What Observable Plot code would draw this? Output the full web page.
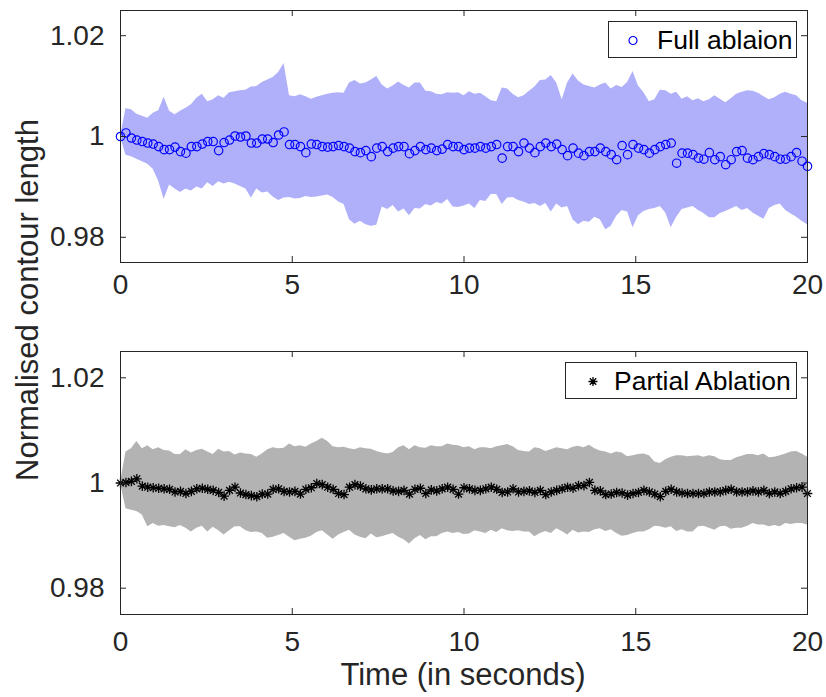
<!DOCTYPE html>
<html><head><meta charset="utf-8">
<script src="https://cdn.jsdelivr.net/npm/d3@7"></script>
<script src="https://cdn.jsdelivr.net/npm/@observablehq/plot@0.6"></script>
<style>
body{margin:0;background:#fff;}
#wrap{position:relative;width:826px;height:697px;font-family:"Liberation Sans",Arial,Helvetica,sans-serif;color:#262626;overflow:hidden;background:#fff}
.panel{position:absolute;left:0}
.panel svg{overflow:visible}
.legend{position:absolute;background:#fff;border:1px solid #262626;box-sizing:border-box;font-size:26.5px;line-height:1;color:#000}
.legend svg{position:absolute;left:0;top:0}
.legend span{position:absolute;left:48px;top:50%;transform:translateY(-50%);white-space:nowrap}
.lab{position:absolute;font-size:31px;line-height:31px;white-space:nowrap;color:#262626}
</style></head>
<body><div id="wrap"></div>
<script>
// ---- data ----
const nSamples = 127;               // samples between 0 and 20 s
const time = d3.range(nSamples).map(i => i * 20 / (nSamples - 1));
const xTicks = [0, 5, 10, 15, 20];
const yTicks = [0.98, 1, 1.02];
const yTickLabels = ["0.98", "1", "1.02"];
const seriesNames = ["Full ablaion", "Partial Ablation"];
const xLabel = "Time (in seconds)";
const yLabel = "Normalised contour length";

const fullMean = [
1.0000,1.0007,0.9997,0.9993,0.9990,0.9987,0.9985,0.9980,0.9974,0.9974,
0.9979,0.9970,0.9967,0.9980,0.9980,0.9985,0.9990,0.9990,0.9972,0.9988,
0.9993,1.0001,0.9999,1.0001,0.9987,0.9987,0.9995,0.9995,0.9988,1.0003,
1.0009,0.9984,0.9984,0.9980,0.9968,0.9985,0.9984,0.9980,0.9979,0.9980,
0.9982,0.9980,0.9977,0.9970,0.9968,0.9972,0.9960,0.9977,0.9980,0.9970,
0.9977,0.9980,0.9980,0.9966,0.9972,0.9980,0.9974,0.9977,0.9972,0.9975,
0.9984,0.9980,
0.9980,0.9974,0.9977,0.9977,0.9980,0.9977,0.9980,0.9984,0.9957,
0.9980,0.9980,0.9970,0.9987,0.9977,0.9968,0.9980,0.9987,0.9980,0.9985,
0.9974,0.9962,0.9977,0.9967,0.9962,0.9970,0.9970,0.9977,0.9970,0.9964,
0.9954,0.9982,0.9964,0.9984,0.9977,0.9974,0.9967,0.9974,0.9980,0.9984,
0.9987,0.9947,0.9967,0.9967,0.9964,0.9957,0.9955,0.9968,0.9954,0.9960,
0.9944,0.9954,0.9970,0.9972,0.9957,0.9954,0.9960,0.9966,0.9964,0.9960,
0.9955,0.9955,0.9960,0.9968,0.9951,0.9941];
const fullUpper = [
1.0000,1.0055,1.0053,1.0044,1.0040,1.0036,1.0046,1.0051,1.0078,1.0050,
1.0043,1.0050,1.0056,1.0063,1.0076,1.0084,1.0069,1.0073,1.0081,1.0076,
1.0087,1.0089,1.0091,1.0092,1.0098,1.0099,1.0107,1.0112,1.0117,1.0127,
1.0145,1.0081,1.0079,1.0083,1.0079,1.0074,1.0078,1.0081,1.0084,1.0086,
1.0087,1.0086,1.0106,1.0111,1.0104,1.0106,1.0112,1.0119,1.0102,1.0094,
1.0100,1.0108,1.0101,1.0096,1.0106,1.0106,1.0090,1.0089,1.0084,1.0083,
1.0087,1.0086,1.0087,1.0081,1.0089,1.0084,1.0086,1.0079,1.0071,1.0069,
1.0096,1.0094,1.0084,1.0077,1.0081,1.0090,1.0098,1.0111,1.0112,1.0121,
1.0106,1.0073,1.0106,1.0124,1.0110,1.0102,1.0099,1.0096,1.0102,1.0106,
1.0094,1.0101,1.0097,1.0107,1.0129,1.0100,1.0087,1.0069,1.0073,1.0092,
1.0091,1.0084,1.0088,1.0074,1.0079,1.0071,1.0075,1.0069,1.0073,1.0081,
1.0074,1.0067,1.0075,1.0084,1.0088,1.0091,1.0090,1.0086,1.0079,1.0073,
1.0077,1.0084,1.0088,1.0084,1.0081,1.0071,1.0066];
const fullLower = [
1.0000,0.9963,0.9960,0.9955,0.9950,0.9945,0.9935,0.9911,0.9875,0.9904,
0.9896,0.9889,0.9896,0.9892,0.9900,0.9896,0.9908,0.9901,0.9910,0.9906,
0.9909,0.9906,0.9901,0.9896,0.9878,0.9896,0.9888,0.9890,0.9880,0.9873,
0.9878,0.9879,0.9876,0.9877,0.9881,0.9879,0.9880,0.9882,0.9884,0.9879,
0.9870,0.9865,0.9835,0.9826,0.9832,0.9825,0.9822,0.9824,0.9860,0.9855,
0.9863,0.9850,0.9856,0.9843,0.9857,0.9856,0.9865,0.9862,0.9869,0.9866,
0.9875,0.9860,0.9859,0.9862,0.9866,0.9857,0.9873,0.9871,0.9885,0.9885,
0.9865,0.9878,0.9879,0.9873,0.9870,0.9865,0.9867,0.9861,0.9867,0.9850,
0.9866,0.9858,0.9861,0.9835,0.9825,0.9832,0.9830,0.9840,0.9835,0.9815,
0.9822,0.9842,0.9853,0.9850,0.9819,0.9843,0.9851,0.9855,0.9857,0.9861,
0.9848,0.9819,0.9840,0.9855,0.9858,0.9861,0.9853,0.9847,0.9839,0.9839,
0.9847,0.9851,0.9856,0.9861,0.9853,0.9857,0.9848,0.9842,0.9836,0.9857,
0.9863,0.9866,0.9853,0.9846,0.9840,0.9832,0.9825];

const partialMean = [
1.0000,1.0001,1.0003,1.0008,0.9994,0.9992,0.9991,0.9990,0.9989,0.9988,
0.9983,0.9984,0.9980,0.9984,0.9989,0.9990,0.9988,0.9986,0.9982,0.9975,
0.9986,0.9992,0.9981,0.9978,0.9976,0.9974,0.9979,0.9979,0.9988,0.9989,
0.9984,0.9983,0.9984,0.9979,0.9988,0.9991,0.9999,0.9997,0.9992,0.9988,
0.9980,0.9978,0.9992,0.9997,0.9994,0.9989,0.9987,0.9989,0.9989,0.9989,
0.9985,0.9984,0.9986,0.9979,0.9988,0.9990,0.9980,0.9987,0.9985,0.9989,
0.9992,0.9988,0.9979,0.9991,0.9989,0.9986,0.9986,0.9989,0.9992,0.9988,
0.9982,0.9983,0.9989,0.9983,0.9984,0.9985,0.9982,0.9986,0.9978,0.9983,
0.9986,0.9989,0.9992,0.9990,0.9995,0.9995,1.0001,0.9986,0.9985,0.9978,
0.9979,0.9982,0.9981,0.9977,0.9980,0.9982,0.9986,0.9983,0.9979,0.9974,
0.9984,0.9988,0.9983,0.9981,0.9980,0.9980,0.9980,0.9980,0.9983,0.9983,
0.9983,0.9986,0.9988,0.9983,0.9983,0.9983,0.9985,0.9983,0.9986,0.9980,
0.9983,0.9980,0.9984,0.9989,0.9991,0.9992,0.9980];
const partialUpper = [
1.0000,1.0059,1.0065,1.0079,1.0065,1.0071,1.0063,1.0067,1.0062,1.0061,
1.0054,1.0054,1.0063,1.0057,1.0062,1.0064,1.0059,1.0054,1.0064,1.0059,
1.0060,1.0053,1.0057,1.0055,1.0054,1.0049,1.0055,1.0063,1.0067,1.0065,
1.0066,1.0074,1.0069,1.0071,1.0068,1.0074,1.0079,1.0085,1.0079,1.0069,
1.0067,1.0068,1.0065,1.0063,1.0067,1.0065,1.0064,1.0060,1.0057,1.0055,
1.0058,1.0067,1.0071,1.0063,1.0071,1.0067,1.0066,1.0071,1.0069,1.0069,
1.0074,1.0072,1.0071,1.0067,1.0069,1.0063,1.0067,1.0067,1.0065,1.0069,
1.0071,1.0073,1.0069,1.0062,1.0060,1.0059,1.0067,1.0065,1.0060,1.0063,
1.0067,1.0065,1.0063,1.0068,1.0070,1.0067,1.0072,1.0065,1.0061,1.0059,
1.0055,1.0059,1.0057,1.0050,1.0052,1.0054,1.0055,1.0052,1.0040,1.0037,
1.0044,1.0049,1.0052,1.0052,1.0050,1.0051,1.0052,1.0049,1.0052,1.0050,
1.0044,1.0043,1.0043,1.0048,1.0051,1.0054,1.0054,1.0052,1.0055,1.0048,
1.0049,1.0052,1.0055,1.0059,1.0060,1.0055,1.0049];
const partialLower = [
1.0000,0.9951,0.9948,0.9946,0.9939,0.9917,0.9923,0.9918,0.9919,0.9917,
0.9915,0.9919,0.9914,0.9907,0.9914,0.9918,0.9907,0.9916,0.9909,0.9901,
0.9909,0.9917,0.9917,0.9909,0.9906,0.9907,0.9904,0.9895,0.9897,0.9900,
0.9904,0.9897,0.9890,0.9893,0.9895,0.9899,0.9906,0.9909,0.9901,0.9893,
0.9901,0.9906,0.9910,0.9901,0.9897,0.9894,0.9903,0.9896,0.9898,0.9901,
0.9904,0.9897,0.9892,0.9884,0.9894,0.9900,0.9892,0.9898,0.9898,0.9904,
0.9907,0.9904,0.9906,0.9902,0.9903,0.9909,0.9907,0.9904,0.9910,0.9906,
0.9913,0.9909,0.9908,0.9909,0.9907,0.9907,0.9898,0.9904,0.9908,0.9904,
0.9913,0.9908,0.9901,0.9910,0.9905,0.9907,0.9906,0.9911,0.9913,0.9908,
0.9911,0.9904,0.9899,0.9900,0.9904,0.9907,0.9907,0.9911,0.9918,0.9917,
0.9914,0.9917,0.9908,0.9911,0.9907,0.9907,0.9917,0.9918,0.9914,0.9910,
0.9917,0.9918,0.9912,0.9914,0.9914,0.9918,0.9923,0.9920,0.9920,0.9917,
0.9919,0.9917,0.9923,0.9921,0.9923,0.9923,0.9920];

// ---- drawing ----
const FONT = '"Liberation Sans", Arial, Helvetica, sans-serif';
const AX = "#262626";
const W = 826, ML = 120, MR = 19;

// MATLAB-like 8-arm asterisk
const asterisk8 = {
  draw(ctx, size) {
    const r = Math.sqrt(size / Math.PI), d = r * Math.SQRT1_2;
    ctx.moveTo(-r, 0); ctx.lineTo(r, 0);
    ctx.moveTo(0, -r); ctx.lineTo(0, r);
    ctx.moveTo(-d, -d); ctx.lineTo(d, d);
    ctx.moveTo(-d, d); ctx.lineTo(d, -d);
  }
};

function panel({mean, upper, lower, fill, dot, top, height, mt, mb, tickPad}) {
  const data = time.map((t, i) => ({t, m: mean[i], hi: upper[i], lo: lower[i]}));
  const innerH = height - mt - mb, innerW = W - ML - MR;
  const chart = Plot.plot({
    width: W, height,
    marginLeft: ML, marginRight: MR, marginTop: mt, marginBottom: mb,
    style: {fontFamily: FONT, fontSize: "28px", color: AX, background: "transparent", overflow: "visible"},
    x: {domain: [0, 20]},
    y: {domain: [0.975, 1.025]},
    marks: [
      Plot.areaY(data, {x: "t", y1: "lo", y2: "hi", fill, curve: "linear"}),
      Plot.dot(data, {x: "t", y: "m", ...dot}),
      Plot.frame({stroke: AX, strokeWidth: 1}),
      Plot.tickX(xTicks, {x: d => d, insetBottom: innerH - 6, stroke: AX}),
      Plot.tickX(xTicks, {x: d => d, insetTop: innerH - 6, stroke: AX}),
      Plot.tickY(yTicks, {y: d => d, insetRight: innerW - 6, stroke: AX}),
      Plot.tickY(yTicks, {y: d => d, insetLeft: innerW - 6, stroke: AX}),
      Plot.axisX(xTicks, {tickSize: 0, tickPadding: tickPad, fontSize: 28, fill: AX, label: null, tickFormat: d => String(d)}),
      Plot.axisY(yTicks, {tickSize: 0, tickPadding: 16, fontSize: 28, fill: AX, label: null, tickFormat: d => yTickLabels[yTicks.indexOf(d)]})
    ]
  });
  const div = document.createElement("div");
  div.className = "panel";
  div.style.top = top + "px";
  div.appendChild(chart);
  return div;
}

const wrap = document.getElementById("wrap");
wrap.appendChild(panel({
  mean: fullMean, upper: fullUpper, lower: fullLower, fill: "#b0b0fa",
  dot: {r: 4.2, stroke: "#0000ff", fill: "none", strokeWidth: 1.2},
  top: 0, height: 300, mt: 10, mb: 38, tickPad: 12
}));
wrap.appendChild(panel({
  mean: partialMean, upper: partialUpper, lower: partialLower, fill: "#b3b3b3",
  dot: {r: 4.8, symbol: asterisk8, stroke: "#000", strokeWidth: 1.3},
  top: 340, height: 320, mt: 11, mb: 46, tickPad: 17
}));

// legends
function legend(left, top, w, h, markerX, markerSvg, text) {
  const d = document.createElement("div");
  d.className = "legend";
  Object.assign(d.style, {left: left + "px", top: top + "px", width: w + "px", height: h + "px"});
  d.innerHTML = `<svg width="${w}" height="${h}"><g transform="translate(${markerX},${h / 2})">${markerSvg}</g></svg><span>${text}</span>`;
  wrap.appendChild(d);
}
legend(608, 21, 189, 37, 24, '<circle r="4" fill="none" stroke="#0000ff" stroke-width="1.2"/>', seriesNames[0]);
legend(565, 362, 232, 37, 27,
  '<path d="M-4.5,0H4.5M0,-4.5V4.5M-3.2,-3.2L3.2,3.2M-3.2,3.2L3.2,-3.2" stroke="#000" stroke-width="1.3"/>', seriesNames[1]);

// axis labels
const xl = document.createElement("div");
xl.className = "lab"; xl.textContent = xLabel;
Object.assign(xl.style, {left: "463px", top: "659px", transform: "translateX(-50%)"});
wrap.appendChild(xl);
const yl = document.createElement("div");
yl.className = "lab"; yl.textContent = yLabel;
Object.assign(yl.style, {left: "27px", top: "300px", transform: "translate(-50%,-50%) rotate(-90deg)"});
wrap.appendChild(yl);
</script>
</body></html>
